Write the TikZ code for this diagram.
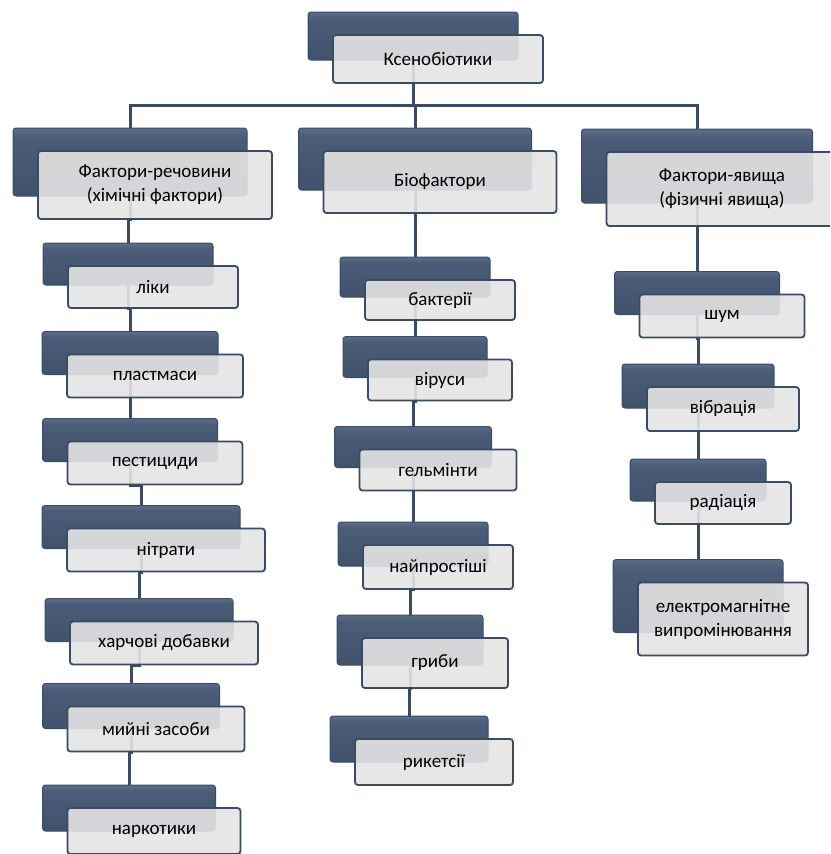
\documentclass[tikz,border=0pt]{standalone}
\usepackage{fontspec}
\setmainfont{Carlito}
\usetikzlibrary{backgrounds}
\usetikzlibrary{calc}
\definecolor{linkcol}{HTML}{3A4B63}
\definecolor{bkdark}{HTML}{3B4C65}
\definecolor{bkmid}{HTML}{4A5C77}
\definecolor{bklight}{HTML}{7A8DA6}
\definecolor{bkhigh}{HTML}{B4C1D1}
\definecolor{frontfill}{HTML}{E4E4E4}
\pgfdeclareverticalshading{bkshade}{100bp}{color(0bp)=(bkdark); color(68bp)=(bkmid); color(88bp)=(bklight); color(100bp)=(bkhigh)}
\tikzstyle{backbox}=[rounded corners=3pt,draw=bkdark,line width=1pt,shade,shading=bkshade,inner sep=0pt]
\tikzstyle{frontbox}=[rounded corners=3pt,draw=linkcol,line width=1.8pt,fill=frontfill,fill opacity=0.9,text opacity=1,align=center,inner sep=0pt,font=\fontsize{19}{24}\selectfont]
\tikzstyle{link}=[draw=linkcol,line width=3pt]

\begin{document}
\begin{tikzpicture}[x=1pt,y=-1pt]

  \clip (0,0) rectangle (830,854);

   % back box centre x/y, size w/h, name, text
   \foreach \x/\y/\w/\h/\name/\label in {
        413/36/210/48/ksen/Ксенобіотики,
        130/162/234/68/rech/{Фактори-речовини\\(хімічні фактори)},
        128/264/170/42/liky/ліки,
        130/353/176/43/plast/пластмаси,
        130/440/175/43/pest/пестициди,
        141/527/198/43/nitr/нітрати,
        139/620/188/43/harch/харчові добавки,
        131/706/177/45/myin/мийні засоби,
        129/808/173/46/nark/наркотики,
        415/159/233/62/bio/Біофактори,
        415/277/150/40/bakt/бактерії,
        415/357/144/41/vir/віруси,
        413/447/157/41/helm/гельмінти,
        413/544/150/44/naip/найпростіші,
        410/640/146/50/hryb/гриби,
        409/739/158/46/ryk/рикетсії,
        697/166/231/74/yav/{Фактори-явища\\(фізичні явища)},
        697/293/165/43/shum/шум,
        698/386/152/44/vibr/вібрація,
        698/480/136/42/rad/радіація,
        698/596/170/73/elmag/{електромагнітне\\випромінювання}}
   {
          \node[backbox,minimum width=\w pt,minimum height=\h pt] (b\name) at (\x,\y) {};
          \node[frontbox,minimum width=\w pt,minimum height=\h pt] (\name) at (\x+25,\y+23) {\label};
   }

  \begin{scope}[on background layer]
   \coordinate (bus) at (0,105);
   \draw[link] (bksen.center) -- (bksen.center |- bus);
   \foreach \c in {rech,bio,yav}
          \draw[link] (bksen.center |- bus) -| (b\c.center);

   \foreach \a/\b in {rech/liky, liky/plast, plast/pest, pest/nitr, nitr/harch, harch/myin, myin/nark,
                      bio/bakt, bakt/vir, vir/helm, helm/naip, naip/hryb, hryb/ryk,
                      yav/shum, shum/vibr, vibr/rad, rad/elmag}
          \draw[link] (b\a.center) -- (b\a.center |- \a.south) -| (b\b.center);
  \end{scope}

\end{tikzpicture}
\end{document}
